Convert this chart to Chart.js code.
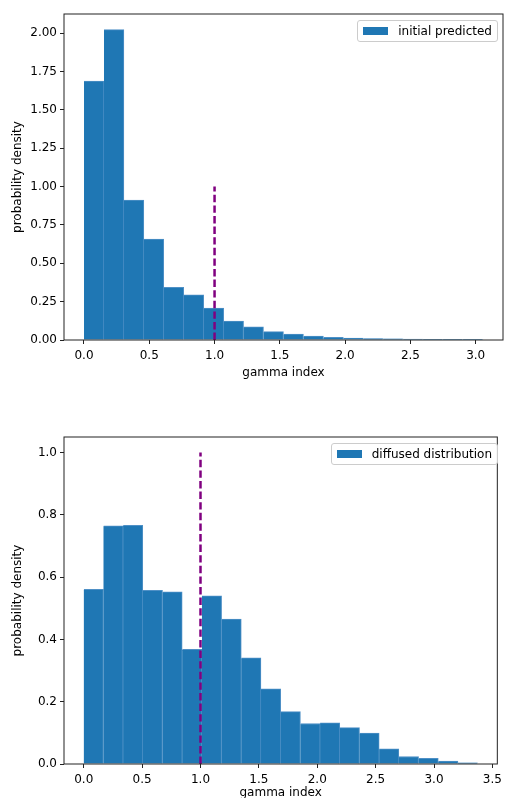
<!DOCTYPE html>
<html>
<head>
<meta charset="utf-8">
<script src="https://cdn.jsdelivr.net/npm/chart.js@4.4.0/dist/chart.umd.min.js"></script>
<style>
  html, body { margin: 0; background: #fff; font-family: 'DejaVu Sans', sans-serif; overflow: hidden; }
  .panel { position: relative; width: 507px; }
  canvas { display: block; }
  .legend {
    position: absolute; right: 9px;
    border: 1px solid #cccccc; border-radius: 3px;
    background: rgba(255, 255, 255, 0.8);
    padding: 3px 5px; font-size: 12px; line-height: 14px; color: #000;
    white-space: nowrap; display: flex; align-items: center;
  }
  .legend .swatch { display: inline-block; width: 25px; height: 8px; background: #1f77b4; margin-right: 10px; }
</style>
</head>
<body>
<div class="panel">
  <canvas id="topChart" width="507" height="400"></canvas>
  <div class="legend" id="topLegend" style="top:20px"></div>
</div>
<div class="panel">
  <canvas id="bottomChart" width="507" height="400"></canvas>
  <div class="legend" id="bottomLegend" style="top:43px"></div>
</div>
<script>
// Top histogram: initial predicted
const topLabel = 'initial predicted';
const topEdges = [0, 0.153, 0.306, 0.458, 0.611, 0.764, 0.917, 1.070, 1.222, 1.375, 1.528,
                  1.681, 1.834, 1.986, 2.139, 2.292, 2.445, 2.598, 2.750, 2.903, 3.056];
const topDensity = [1.687, 2.022, 0.912, 0.658, 0.343, 0.294, 0.208, 0.124, 0.086, 0.055,
                    0.038, 0.025, 0.017, 0.013, 0.009, 0.008, 0.006, 0.004, 0.002, 0.001];
const topXTicks = [0, 0.5, 1.0, 1.5, 2.0, 2.5, 3.0];
const topYTicks = [0, 0.25, 0.5, 0.75, 1.0, 1.25, 1.5, 1.75, 2.0];

// Bottom histogram: diffused distribution
const bottomLabel = 'diffused distribution';
const bottomEdges = [0, 0.169, 0.337, 0.506, 0.675, 0.843, 1.012, 1.181, 1.349, 1.518, 1.687,
                     1.856, 2.024, 2.193, 2.362, 2.530, 2.699, 2.868, 3.036, 3.205, 3.373];
const bottomDensity = [0.561, 0.765, 0.766, 0.558, 0.553, 0.368, 0.540, 0.465, 0.341, 0.241,
                       0.168, 0.130, 0.132, 0.117, 0.099, 0.049, 0.024, 0.018, 0.009, 0.004];
const bottomXTicks = [0, 0.5, 1.0, 1.5, 2.0, 2.5, 3.0, 3.5];
const bottomYTicks = [0, 0.2, 0.4, 0.6, 0.8, 1.0];

// Threshold line at gamma = 1
const thresholdX = 1.0;
const thresholdTop = 1.0;

const FONT = { family: "'DejaVu Sans', sans-serif", size: 12 };

// Box around the plot area, drawn over the bars like matplotlib spines
const framePlugin = {
    id: 'frame',
    afterDatasetsDraw(chart) {
        const { ctx, chartArea: a } = chart;
        ctx.save();
        ctx.strokeStyle = '#222';
        ctx.lineWidth = 1;
        ctx.strokeRect(a.left, a.top, a.right - a.left, a.bottom - a.top);
        ctx.restore();
    }
};

function makeHistogram(canvasId, legendId, label, edges, density, xTicks, yTicks, opts) {
    const bars = density.map((d, i) => ({ x: (edges[i] + edges[i + 1]) / 2, y: d }));

    const legend = document.getElementById(legendId);
    legend.innerHTML = '<span class="swatch"></span><span>' + label + '</span>';

    const ctx = document.getElementById(canvasId).getContext('2d');
    return new Chart(ctx, {
        type: 'bar',
        data: {
            datasets: [
                {
                    type: 'line',
                    data: [{ x: thresholdX, y: 0 }, { x: thresholdX, y: thresholdTop }],
                    borderColor: '#800080',
                    borderWidth: 2.5,
                    borderDash: [7.4, 3.2],
                    pointRadius: 0,
                    fill: false,
                    order: 0
                },
                {
                    label: label,
                    data: bars,
                    backgroundColor: '#1f77b4',
                    borderColor: '#4f90c6',
                    borderWidth: { top: 1, right: 1, left: 0, bottom: 0 },
                    borderSkipped: false,
                    barPercentage: 1.0,
                    categoryPercentage: 1.0,
                    order: 1
                }
            ]
        },
        options: {
            responsive: false,
            animation: false,
            layout: { padding: opts.padding },
            plugins: {
                legend: { display: false },
                tooltip: { enabled: false }
            },
            scales: {
                x: {
                    type: 'linear',
                    offset: false,
                    min: opts.xMin,
                    max: opts.xMax,
                    afterBuildTicks: s => { s.ticks = xTicks.map(v => ({ value: v })); },
                    afterFit: s => { s.height = opts.xHeight; },
                    grid: { offset: false, drawOnChartArea: false, drawTicks: true, tickLength: 4, color: '#222', lineWidth: 1 },
                    border: { display: false },
                    ticks: { color: '#000', font: FONT, padding: 5, maxRotation: 0, autoSkip: false,
                             callback: v => v.toFixed(1) },
                    title: { display: true, text: 'gamma index', color: '#000', font: FONT, padding: { top: 0, bottom: 0 } }
                },
                y: {
                    min: 0,
                    max: opts.yMax,
                    afterBuildTicks: s => { s.ticks = yTicks.map(v => ({ value: v })); },
                    afterFit: s => { s.width = 64; },
                    grid: { drawOnChartArea: false, drawTicks: true, tickLength: 4, color: '#222', lineWidth: 1 },
                    border: { display: false },
                    ticks: { color: '#000', font: FONT, padding: 3, autoSkip: false,
                             callback: v => v.toFixed(opts.yDigits) },
                    title: { display: true, text: 'probability density', color: '#000', font: FONT, padding: { top: 11, bottom: 0 } }
                }
            }
        },
        plugins: [framePlugin]
    });
}

makeHistogram('topChart', 'topLegend', topLabel, topEdges, topDensity, topXTicks, topYTicks, {
    xMin: -0.153, xMax: 3.209, yMax: 2.124, yDigits: 2, xHeight: 40,
    padding: { top: 14, right: 4, bottom: 20, left: 0 }
});

makeHistogram('bottomChart', 'bottomLegend', bottomLabel, bottomEdges, bottomDensity, bottomXTicks, bottomYTicks, {
    xMin: -0.169, xMax: 3.542, yMax: 1.05, yDigits: 1, xHeight: 36,
    padding: { top: 37, right: 4, bottom: 0, left: 0 }
});
</script>
</body>
</html>
